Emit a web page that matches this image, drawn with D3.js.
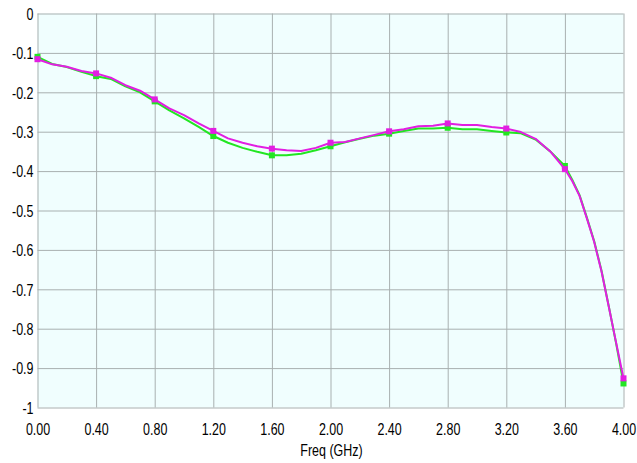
<!DOCTYPE html>
<html>
<head>
<meta charset="utf-8">
<script src="https://cdn.jsdelivr.net/npm/d3@7"></script>
<style>
  html, body { margin: 0; padding: 0; background: #ffffff; }
  svg { display: block; }
  text { font-family: "Liberation Sans", Arial, sans-serif; fill: #000; }
</style>
</head>
<body>
<svg id="chart" width="637" height="463"></svg>
<script>
// ---- data ----
const freq = [0.0,0.1,0.2,0.3,0.4,0.5,0.6,0.7,0.8,0.9,1.0,1.1,1.2,1.3,1.4,1.5,1.6,1.7,1.8,1.9,2.0,
              2.1,2.2,2.3,2.4,2.5,2.6,2.7,2.8,2.9,3.0,3.1,3.2,3.3,3.4,3.5,3.6,3.65,3.7,3.75,3.8,3.85,3.9,3.95,4.0];
const greenSeries = [-0.110,-0.128,-0.136,-0.148,-0.159,-0.166,-0.185,-0.200,-0.223,-0.246,-0.266,-0.288,-0.311,
              -0.328,-0.341,-0.351,-0.360,-0.360,-0.356,-0.347,-0.337,-0.327,-0.318,-0.310,-0.305,-0.298,
              -0.292,-0.292,-0.290,-0.294,-0.294,-0.298,-0.302,-0.304,-0.320,-0.350,-0.387,-0.422,-0.461,
              -0.518,-0.578,-0.653,-0.744,-0.838,-0.939];
const magentaSeries = [-0.116,-0.129,-0.135,-0.146,-0.152,-0.163,-0.182,-0.196,-0.218,-0.241,-0.258,-0.279,-0.298,
              -0.317,-0.328,-0.337,-0.343,-0.347,-0.349,-0.341,-0.328,-0.326,-0.317,-0.308,-0.299,-0.294,
              -0.286,-0.285,-0.279,-0.283,-0.283,-0.288,-0.292,-0.301,-0.318,-0.350,-0.395,-0.425,-0.463,
              -0.520,-0.580,-0.655,-0.745,-0.836,-0.926];
const markerFreq = [0.0,0.4,0.8,1.2,1.6,2.0,2.4,2.8,3.2,3.6,4.0];
const xTicks = [0.0,0.4,0.8,1.2,1.6,2.0,2.4,2.8,3.2,3.6,4.0];
const xTickLabels = ["0.00","0.40","0.80","1.20","1.60","2.00","2.40","2.80","3.20","3.60","4.00"];
const yTicks = [0,-0.1,-0.2,-0.3,-0.4,-0.5,-0.6,-0.7,-0.8,-0.9,-1];
const yTickLabels = ["0","-0.1","-0.2","-0.3","-0.4","-0.5","-0.6","-0.7","-0.8","-0.9","-1"];
const xTitle = "Freq (GHz)";

// ---- layout ----
const L = 37.5, R = 623.5, T = 13.5, B = 407.5;
const SX = 0.78; // horizontal squeeze of the text
const svg = d3.select("#chart");
const x = d3.scaleLinear().domain([0, 4]).range([L, R]);
const y = d3.scaleLinear().domain([0, -1]).range([T, B]);

svg.append("rect").attr("x", L).attr("y", T).attr("width", R - L).attr("height", B - T)
  .attr("fill", "#f0fefe");

// grid via axes
const gx = svg.append("g").attr("transform", `translate(0,${B})`)
  .call(d3.axisBottom(x).tickValues(xTicks).tickSize(-(B - T)).tickPadding(0)
        .tickFormat((d, i) => xTickLabels[i]));
gx.select(".domain").remove();
gx.selectAll("line").attr("stroke", "#a8b0b0").attr("stroke-width", 1);
gx.selectAll("text").attr("y", 28).attr("dy", null)
  .attr("font-size", 16).attr("transform", `scale(${SX},1)`)
  .style("font-family", '"Liberation Sans", Arial, sans-serif');

const gy = svg.append("g").attr("transform", `translate(${L},0)`)
  .call(d3.axisLeft(y).tickValues(yTicks).tickSize(-(R - L)).tickPadding(0)
        .tickFormat((d, i) => yTickLabels[i]));
gy.select(".domain").remove();
gy.selectAll("line").attr("stroke", "#a8b0b0").attr("stroke-width", 1);
gy.selectAll("text").attr("x", -4 / SX).attr("dy", "0.36em")
  .attr("font-size", 16).attr("transform", `scale(${SX},1)`)
  .style("font-family", '"Liberation Sans", Arial, sans-serif');

// axis title
svg.append("text").attr("transform", `translate(${(L + R) / 2 + 1},456) scale(${SX},1)`)
  .attr("text-anchor", "middle").attr("font-size", 16).text(xTitle);

// series
const line = d3.line().x((d, i) => x(freq[i])).y(d => y(d));
function drawSeries(vals, color) {
  svg.append("path").datum(vals).attr("d", line)
    .attr("fill", "none").attr("stroke", color).attr("stroke-width", 2)
    .attr("stroke-linejoin", "round");
  const pts = markerFreq.map(f => [f, vals[freq.indexOf(f)]]);
  svg.selectAll(null).data(pts).enter().append("rect")
    .attr("x", d => x(d[0]) - 3).attr("y", d => y(d[1]) - 3)
    .attr("width", 6).attr("height", 6).attr("fill", color);
}
drawSeries(greenSeries, "#22e622");
drawSeries(magentaSeries, "#e21ee2");
</script>
</body>
</html>
